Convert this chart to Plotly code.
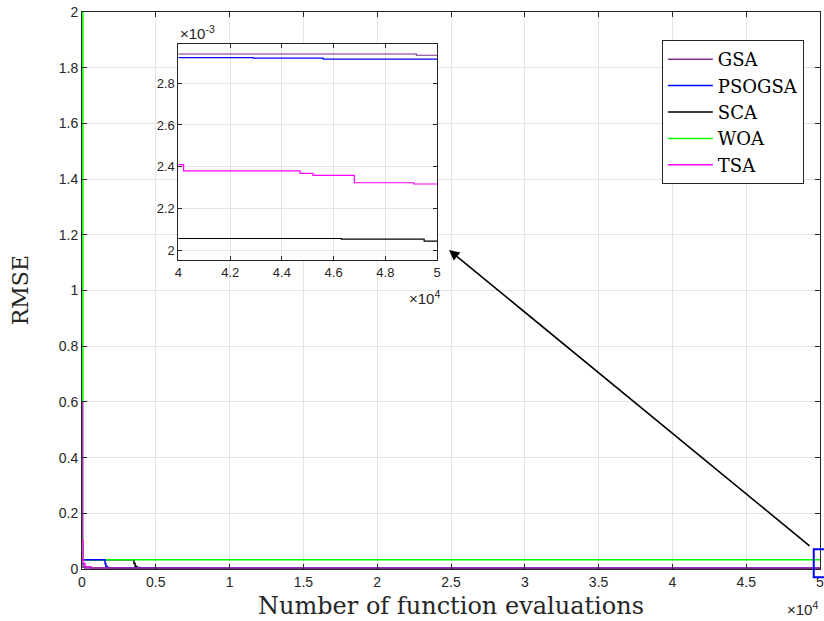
import plotly.graph_objects as go

# ---- data (function evaluations, RMSE) ----
names = ["GSA", "PSOGSA", "SCA", "WOA", "TSA"]
colors = {"GSA": "#7E2F8E", "PSOGSA": "#0000FF", "SCA": "#000000", "WOA": "#00FF00", "TSA": "#FF00FF"}

eval_gsa = [0, 60, 200, 800, 2000, 10000, 30000, 49200, 50000]
rmse_gsa = [0.02, 0.006, 0.004, 0.0033, 0.0031, 0.00296, 0.00294, 0.002934, 0.002934]

eval_psogsa = [0, 1500, 1560, 1620, 1700, 1850, 5000, 20000, 42900, 45600, 50000]
rmse_psogsa = [0.033, 0.033, 0.02, 0.01, 0.005, 0.0033, 0.0030, 0.002923, 0.00292, 0.002915, 0.002915]

eval_sca = [0, 3450, 3520, 3600, 3700, 3900, 8000, 20000, 46300, 49500, 50000]
rmse_sca = [0.033, 0.033, 0.02, 0.01, 0.005, 0.003, 0.0022, 0.002056, 0.002053, 0.002043, 0.002043]

eval_woa = [0, 60, 50000]
rmse_woa = [2.3, 0.033, 0.033]

eval_tsa = [0, 30, 80, 200, 600, 3000, 15000, 30000, 40200, 44700, 45200, 46800, 49100, 50000]
rmse_tsa = [0.6, 0.1, 0.02, 0.008, 0.004, 0.0028, 0.0025, 0.00241, 0.00238, 0.002368, 0.002358, 0.002323, 0.002317, 0.002317]

series = {
    "GSA": (eval_gsa, rmse_gsa),
    "PSOGSA": (eval_psogsa, rmse_psogsa),
    "SCA": (eval_sca, rmse_sca),
    "WOA": (eval_woa, rmse_woa),
    "TSA": (eval_tsa, rmse_tsa),
}

main_xticks = [0, 5000, 10000, 15000, 20000, 25000, 30000, 35000, 40000, 45000, 50000]
main_xtext = ["0", "0.5", "1", "1.5", "2", "2.5", "3", "3.5", "4", "4.5", "5"]
main_yticks = [0, 0.2, 0.4, 0.6, 0.8, 1.0, 1.2, 1.4, 1.6, 1.8, 2.0]
main_ytext = ["0", "0.2", "0.4", "0.6", "0.8", "1", "1.2", "1.4", "1.6", "1.8", "2"]
inset_xticks = [40000, 42000, 44000, 46000, 48000, 50000]
inset_xtext = ["4", "4.2", "4.4", "4.6", "4.8", "5"]
inset_yticks = [0.002, 0.0022, 0.0024, 0.0026, 0.0028]
inset_ytext = ["2", "2.2", "2.4", "2.6", "2.8"]

draw_order = ["SCA", "WOA", "PSOGSA", "TSA", "GSA"]

fig = go.Figure()
for n in draw_order:
    xs, ys = series[n]
    fig.add_trace(go.Scatter(
        x=xs, y=ys, mode="lines", name=n, line=dict(color=colors[n], width=1.5, shape="hv"),
        legendrank=names.index(n) + 1, legendgroup=n, xaxis="x", yaxis="y"))
for n in draw_order:
    xs, ys = series[n]
    fig.add_trace(go.Scatter(
        x=xs, y=ys, mode="lines", name=n, line=dict(color=colors[n], width=1.2, shape="hv"),
        showlegend=False, legendgroup=n, xaxis="x2", yaxis="y2"))

tickfont = dict(family="Liberation Sans, Arial", size=14, color="#262626")
itickfont = dict(family="Liberation Sans, Arial", size=13, color="#262626")
serif = "DejaVu Serif"
grid = "#e3e3e3"

fig.update_layout(
    width=824, height=621,
    margin=dict(l=82, r=0, t=12, b=52),
    paper_bgcolor="white", plot_bgcolor="white",
    xaxis=dict(domain=[0, 1], range=[0, 50000], tickvals=main_xticks, ticktext=main_xtext,
               showgrid=True, gridcolor=grid, zeroline=False, showline=True, linecolor="#262626",
               linewidth=1, mirror="ticks", ticks="inside", ticklen=5, tickcolor="#262626",
               tickfont=tickfont, ticklabeloverflow="allow"),
    yaxis=dict(domain=[0, 1], range=[0, 2], tickvals=main_yticks, ticktext=main_ytext,
               showgrid=True, gridcolor=grid, zeroline=False, showline=True, linecolor="#262626",
               linewidth=1, mirror="ticks", ticks="inside", ticklen=5, tickcolor="#262626",
               tickfont=tickfont, ticklabeloverflow="allow"),
    xaxis2=dict(domain=[0.1307, 0.4811], anchor="y2", range=[40000, 50000], tickvals=inset_xticks,
                ticktext=inset_xtext, showgrid=True, gridcolor=grid, zeroline=False, showline=True,
                linecolor="#262626", linewidth=1, mirror="ticks", ticks="inside", ticklen=4,
                tickcolor="#262626", tickfont=itickfont),
    yaxis2=dict(domain=[0.5548, 0.9426], anchor="x2", range=[0.001953, 0.002988], tickvals=inset_yticks,
                ticktext=inset_ytext, showgrid=True, gridcolor=grid, zeroline=False, showline=True,
                linecolor="#262626", linewidth=1, mirror="ticks", ticks="inside", ticklen=4,
                tickcolor="#262626", tickfont=itickfont),
    legend=dict(x=0.7857, y=0.9497, xanchor="left", yanchor="top", bgcolor="white",
                bordercolor="#262626", borderwidth=1, font=dict(family=serif, size=18, color="black"),
                itemwidth=45, tracegroupgap=0, traceorder="grouped"),
    showlegend=True,
)

annotations = [
    dict(text="Number of function evaluations", xref="paper", yref="paper", x=0.5, y=-0.0664,
         xanchor="center", yanchor="middle", showarrow=False, font=dict(family=serif, size=24, color="#262626")),
    dict(text="RMSE", xref="paper", yref="paper", x=-0.083, y=0.5, textangle=-90,
         xanchor="center", yanchor="middle", showarrow=False, font=dict(family=serif, size=22, color="#262626")),
    dict(text="×10<sup>4</sup>", xref="paper", yref="paper", x=1.0, y=-0.05, xanchor="right", yanchor="top",
         showarrow=False, font=dict(family="Liberation Sans, Arial", size=15, color="#262626")),
    dict(text="×10<sup>-3</sup>", xref="x2 domain", yref="y2 domain", x=0.0, y=1.0, xanchor="left", yanchor="bottom",
         showarrow=False, font=dict(family="Liberation Sans, Arial", size=15, color="#262626")),
    dict(text="×10<sup>4</sup>", xref="x2 domain", yref="y2 domain", x=1.02, y=-0.12, xanchor="right", yanchor="top",
         showarrow=False, font=dict(family="Liberation Sans, Arial", size=15, color="#262626")),
    dict(text="", xref="paper", yref="paper", x=0.4973, y=0.5727, ax=362, ay=297, axref="pixel", ayref="pixel",
         showarrow=True, arrowhead=2, arrowsize=1.3, arrowwidth=1.6, arrowcolor="black"),
]
fig.update_layout(annotations=annotations)

fig.add_shape(type="rect", xref="paper", yref="paper", x0=0.9915, x1=1.03, y0=-0.015, y1=0.0354,
              line=dict(color="#0000FF", width=2), fillcolor="rgba(0,0,0,0)", layer="above")

fig.write_html("out.html")
